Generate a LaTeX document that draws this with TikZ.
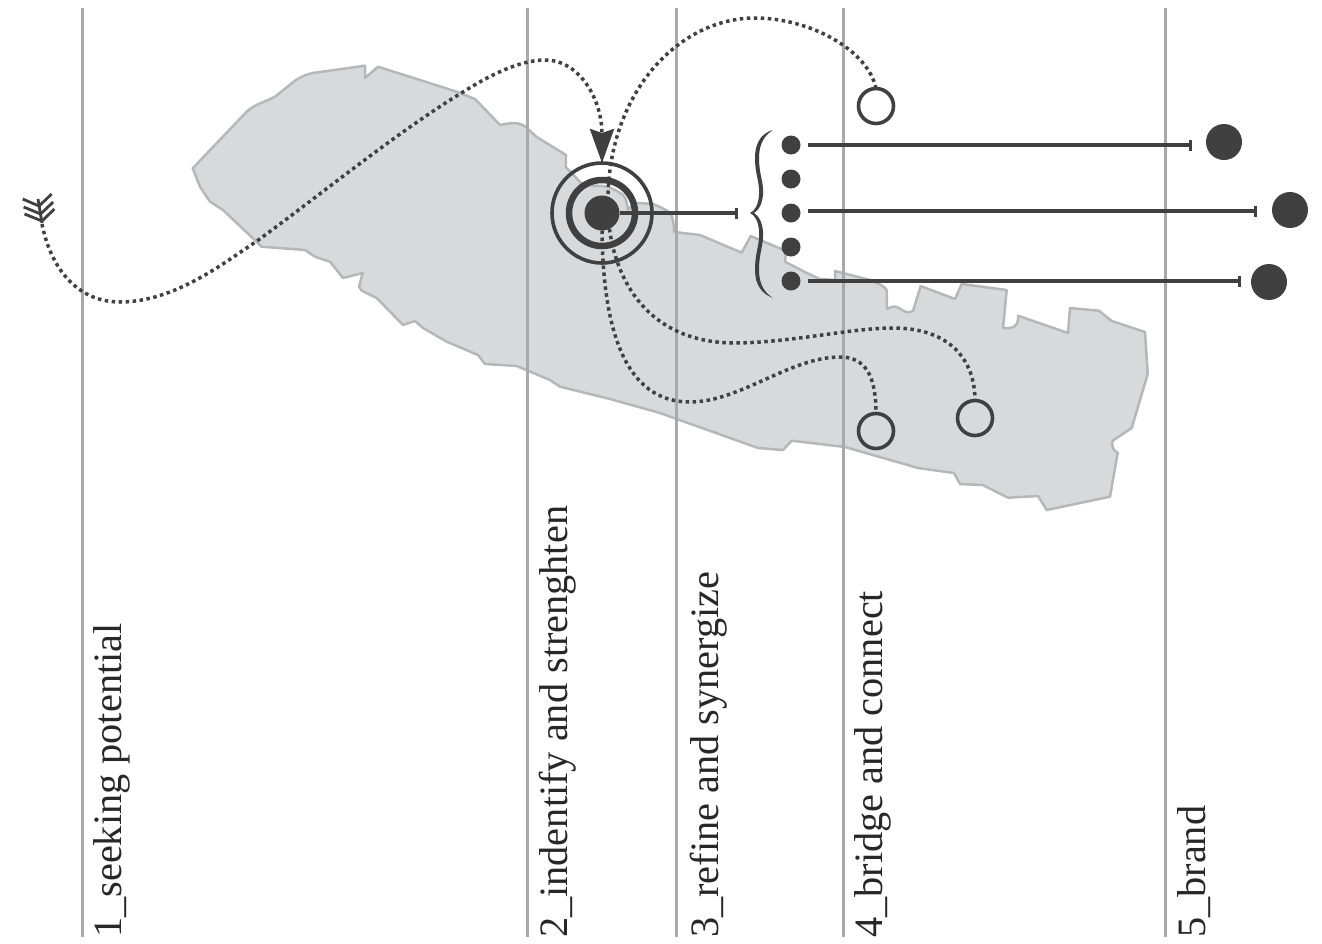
\documentclass[tikz,border=0pt]{standalone}
\usepackage{fontspec}
\setmainfont{Liberation Serif}
\usetikzlibrary{arrows.meta}
\definecolor{inkdark}{RGB}{64, 64, 65}
\definecolor{landgray}{RGB}{216, 217, 219}
\definecolor{coastgray}{RGB}{182, 183, 185}
\definecolor{phasegray}{RGB}{167, 169, 172}
\tikzset{
  phaseline/.style={phasegray, line width=3pt},
  phaselabel/.style={rotate=90, anchor=base west, inner sep=0pt, font=\fontsize{40.3}{40}\selectfont, text=inkdark!60!black},
  dotpath/.style={inkdark, line width=3.5pt, dash pattern=on 3.5pt off 3.5pt},
  tieline/.style={inkdark, line width=3.3pt, -{Bar[width=11pt,length=2pt]}, shorten <=7.5pt},
  opencirc/.style={circle, draw=inkdark, line width=3.6pt, minimum size=35pt, inner sep=0pt, outer sep=0pt},
  fullcirc/.style={circle, fill=inkdark, minimum size=36pt, inner sep=0pt, outer sep=0pt},
  smalldot/.style={circle, fill=inkdark, minimum size=19pt, inner sep=0pt, outer sep=0pt}
}
\begin{document}
\begin{tikzpicture}[x=1pt, y=-1pt]
  \useasboundingbox (0,0) rectangle (1322,943);
  % Land shape
  \fill[landgray] [draw=coastgray, line width=2.5pt, line join=round]
    (192.7,168.3) -- (246.7,111.7) .. controls (255,104) and (265,102) .. (275,96.7)
    -- (295,80.7) .. controls (302,76) and (308,74) .. (313,73) -- (365,65.7) -- (365,78) -- (378,66.7)
    -- (456.7,91.7) -- (475,99) -- (500,125) .. controls (510,123) and (520,121) .. (526.7,128)
    -- (536.7,137) -- (566,155) -- (565.7,167) -- (583,185) -- (603,186) .. controls (612,188) and (618,191) .. (623,195)
    .. controls (627,199) and (627,205) .. (628,210) .. controls (632,204) and (636,203) .. (640,203)
    -- (653,204) .. controls (660,207) and (665,209) .. (670,213) .. controls (673,217) and (674,224) .. (674,232)
    -- (700,235) -- (741.7,252.7) -- (750.7,236) -- (786,251) -- (785,261.7) -- (806.7,273) -- (820,279) -- (835,280)
    -- (835,271) -- (870,280) .. controls (880,284) and (885,287) .. (886.7,290) -- (887,309)
    .. controls (892,306) and (896,306) .. (899,308) .. controls (903,311) and (908,314) .. (913,311)
    -- (920.7,286) -- (955,299) -- (961.7,284) -- (1006.7,290) -- (1003,328)
    .. controls (1012,329) and (1019,327) .. (1018,315.7)
    -- (1068,333) -- (1070,308) -- (1099,310.7) -- (1111.7,321) -- (1145,332) -- (1147.7,374) -- (1131.7,428)
    -- (1112.7,440.7) .. controls (1111,445) and (1113,451) .. (1117.7,452.7) -- (1110,496.7) -- (1046.7,510)
    -- (1038,496) -- (1008,497.7) -- (982.7,485) -- (960,484) -- (954,473) -- (918,468) -- (845,447)
    -- (791.7,440.7) -- (783,450) -- (758,448) -- (660,413) -- (610,399) -- (560,386.7) -- (550,380)
    -- (516.7,366) -- (485,364) -- (478,355) -- (446.7,341.7) -- (423,328) -- (415,321) -- (403,325)
    -- (376.7,298) -- (361.7,290.7) -- (359,286.7) -- (362.7,273) -- (343,278) -- (330,261.7) -- (315,256.7)
    -- (305,250) -- (261.7,246.7) -- (223,210) -- (210,201.7) -- (200,186.7) -- cycle;
  % Phase lines and their labels
  \foreach \x/\ltx/\name in {82/121/1\_seeking potential, 527/567/2\_indentify and strenghten, 676/718/3\_refine and synergize, 843/882/4\_bridge and connect, 1165/1205/5\_brand} {
    \draw[phaseline] (\x,8) -- (\x,937);
    \node[phaselabel] at (\ltx,938) {\name};
  }
  % Target rings
  \node[fullcirc, minimum size=35pt] (core) at (602,213) {};
  \node[circle, draw=inkdark, line width=6.5pt, minimum size=66pt, inner sep=0pt, outer sep=0pt] (midring) at (602,213) {};
  \node[circle, draw=inkdark, line width=3.6pt, minimum size=100pt, inner sep=0pt, outer sep=0pt] (outring) at (602,213) {};
  % Small dots on the brace
  \foreach \i/\y in {1/145,2/179,3/213,4/247,5/281} {
    \node[smalldot] (dot\i) at (791,\y) {};
  }
  % Brand circles
  \node[fullcirc] (brandA) at (1224,142) {};
  \node[fullcirc] (brandB) at (1290,210) {};
  \node[fullcirc] (brandC) at (1269,282) {};
  % Open circles
  \node[opencirc] (openA) at (876,106) {};
  \node[opencirc] (openB) at (876,431) {};
  \node[opencirc] (openC) at (975,418) {};
  % Brace
  \fill[inkdark] (773,130) .. controls (762,133) and (755,142) .. (755,158) .. controls (755,175) and (760,182) .. (759,195)
    .. controls (758.5,204) and (755,211) .. (750,213) .. controls (755,215) and (758.5,222) .. (759,231)
    .. controls (760,245) and (755,252) .. (755,270) .. controls (755,285) and (762,294) .. (773,298)
    .. controls (765,293) and (759,285) .. (759,270) .. controls (759,252) and (764,245) .. (763,231)
    .. controls (762,222) and (759,216) .. (754,213) .. controls (759,210) and (762,204) .. (763,195)
    .. controls (764,182) and (759,175) .. (759,158) .. controls (759,143) and (765,135) .. (773,130) -- cycle;
  % Bars out of the target and the dots
  \coordinate (barT) at (738,213);
  \coordinate (barA) at (1192,145);
  \coordinate (startB) at (800.5,211);
  \coordinate (barB) at (1257,211);
  \coordinate (barC) at (1241,281);
  \draw[tieline, shorten <=0pt] (core.east) -- (barT);
  \draw[tieline] (dot1) -- (barA);
  \draw[tieline] (startB) -- (barB);
  \draw[tieline] (dot5) -- (barC);
  % Search path with feathers at its start
  \coordinate (tail) at (42,224);
  \draw[inkdark, line width=2.8pt] (38,199) -- (42,223);
  \foreach \d in {0,8,15} {
    \draw[inkdark, line width=2.8pt] (22.7+\d*0.12,199+\d) -- (39+\d*0.2,206+\d) -- (51.7+\d*0.18,194+\d);
  }
  \draw[dotpath, -{Stealth[length=34pt,width=24pt,inset=4pt]}] (tail) .. controls (50,265) and (75,302) .. (120,302)
    .. controls (175,302) and (225,262) .. (257,241) .. controls (320,195) and (400,130) .. (463,92)
    .. controls (490,75) and (520,60) .. (545,60) .. controls (580,60) and (602,100) .. (outring.north);
  % Links from the open circles
  \draw[dotpath] (openA.north) .. controls (868,50) and (810,18) .. (755,18) .. controls (680,18) and (610,90) .. (core.70);
  \draw[dotpath] (core.south) .. controls (603,330) and (625,402) .. (690,402) .. controls (740,402) and (790,357) .. (840,357)
    .. controls (865,357) and (876,375) .. (openB.north);
  \draw[dotpath] (core.-65) .. controls (618,290) and (655,342) .. (733,343) .. controls (790,343) and (850,328) .. (893,328)
    .. controls (950,328) and (975,360) .. (openC.north);
\end{tikzpicture}
\end{document}
